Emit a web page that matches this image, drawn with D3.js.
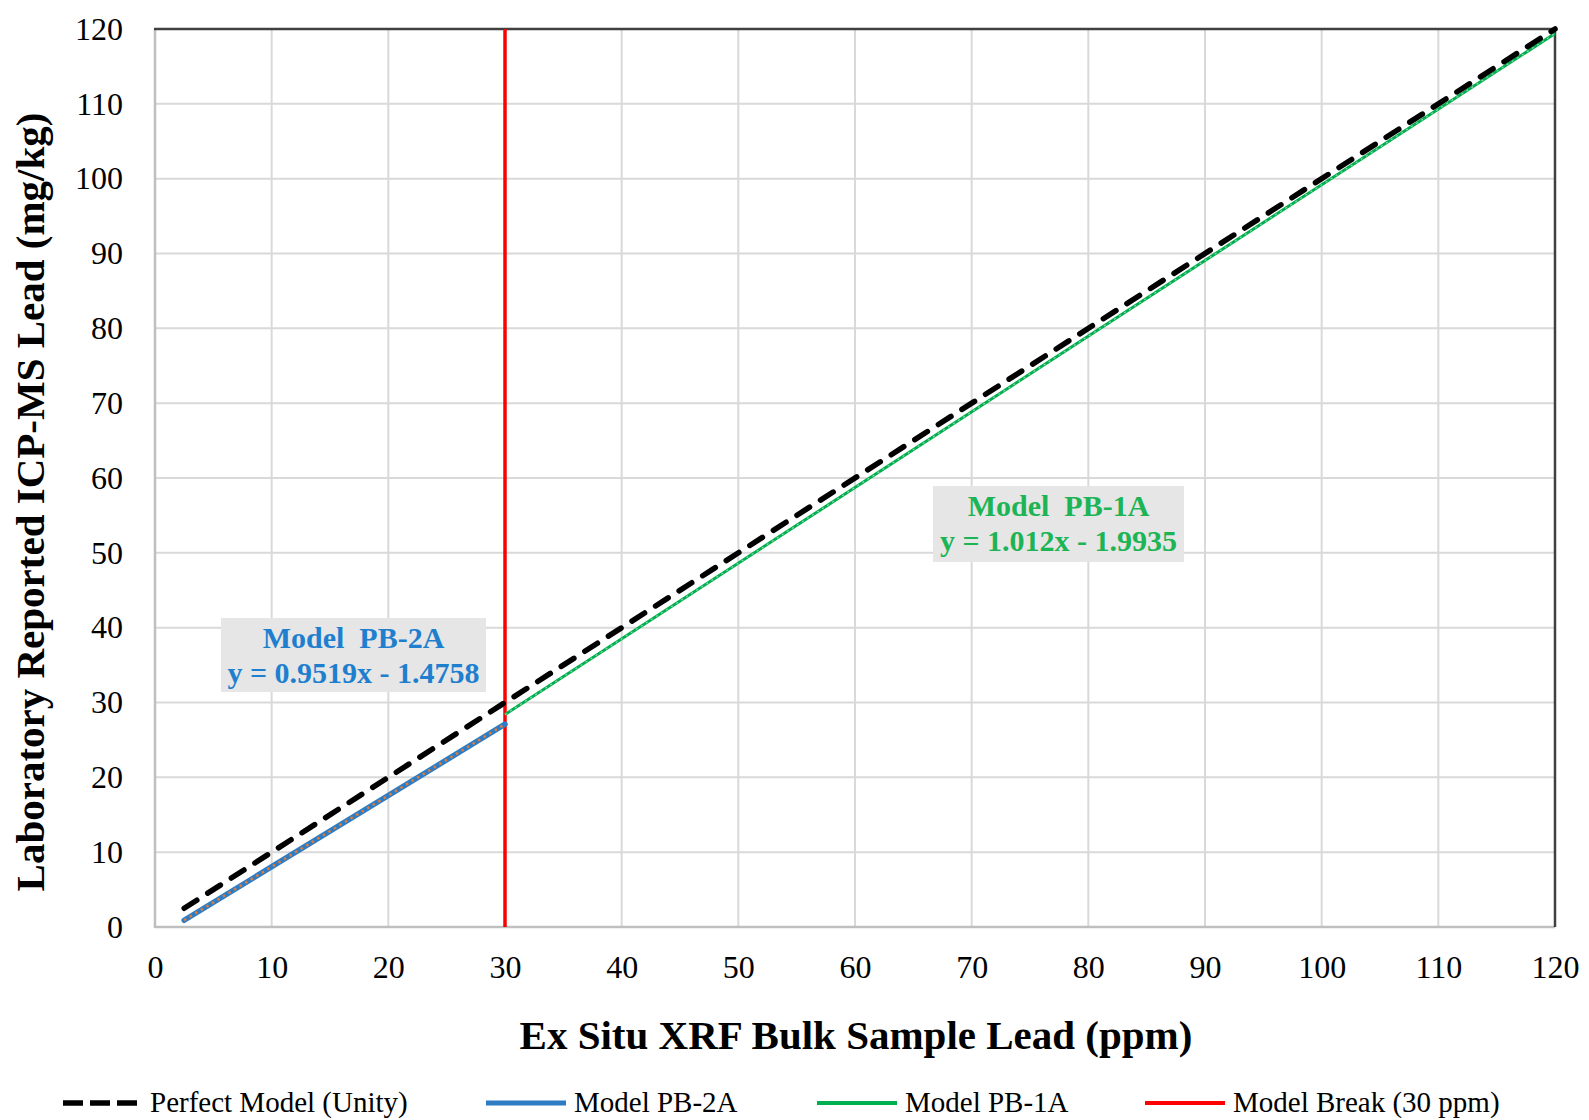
<!DOCTYPE html>
<html>
<head>
<meta charset="utf-8">
<script src="https://cdn.jsdelivr.net/npm/d3@7"></script>
<style>
  body { margin: 0; background: #fff; }
  text { font-family: "Liberation Serif", "Times New Roman", serif; }
</style>
</head>
<body>
<svg id="chart" width="1589" height="1120"></svg>
<script>
// axis ticks
var xTicks = [0, 10, 20, 30, 40, 50, 60, 70, 80, 90, 100, 110, 120];
var yTicks = [0, 10, 20, 30, 40, 50, 60, 70, 80, 90, 100, 110, 120];

// line end points
var unityX = [2.5, 120];
var unityY = [2.5, 120];
var pb2aX = [2.5, 30];
var pb2aY = [0.9, 27.1];
var pb1aX = [30, 120];
var pb1aY = [28.4, 119.4];
var breakX = [30, 30];
var breakY = [0, 120];

var legendNames = ["Perfect Model (Unity)", "Model PB-2A", "Model PB-1A", "Model Break (30 ppm)"];

var svg = d3.select("#chart");
var plotLeft = 155, plotRight = 1555, plotTop = 29, plotBottom = 927;

var x = d3.scaleLinear().domain([0, 120]).range([plotLeft, plotRight]);
var y = d3.scaleLinear().domain([0, 120]).range([plotBottom, plotTop]);

// grid
svg.append("g")
    .selectAll("line")
    .data(xTicks)
    .enter()
    .append("line")
    .attr("x1", function (d) { return x(d) })
    .attr("x2", function (d) { return x(d) })
    .attr("y1", plotTop)
    .attr("y2", plotBottom)
    .style("stroke", "#d9d9d9")
    .style("stroke-width", 2);
svg.append("g")
    .selectAll("line")
    .data(yTicks)
    .enter()
    .append("line")
    .attr("x1", plotLeft)
    .attr("x2", plotRight)
    .attr("y1", function (d) { return y(d) })
    .attr("y2", function (d) { return y(d) })
    .style("stroke", "#d9d9d9")
    .style("stroke-width", 2);

// frame: left/bottom light, top/right dark
svg.append("line").attr("x1", plotLeft).attr("x2", plotLeft).attr("y1", plotTop).attr("y2", plotBottom + 1)
    .style("stroke", "#bfbfbf").style("stroke-width", 2.5);
svg.append("line").attr("x1", plotLeft).attr("x2", plotRight).attr("y1", plotBottom).attr("y2", plotBottom)
    .style("stroke", "#bfbfbf").style("stroke-width", 2.5);
svg.append("line").attr("x1", plotLeft - 1).attr("x2", plotRight + 1).attr("y1", plotTop).attr("y2", plotTop)
    .style("stroke", "#404040").style("stroke-width", 2.5);
svg.append("line").attr("x1", plotRight).attr("x2", plotRight).attr("y1", plotTop).attr("y2", plotBottom)
    .style("stroke", "#404040").style("stroke-width", 2.5);

// axes (labels only)
var xAxis = svg.append("g")
    .attr("transform", "translate(0," + plotBottom + ")")
    .call(d3.axisBottom(x).tickValues(xTicks).tickSize(0).tickPadding(28));
var yAxis = svg.append("g")
    .attr("transform", "translate(" + plotLeft + ",0)")
    .call(d3.axisLeft(y).tickValues(yTicks).tickSize(0).tickPadding(32));
[xAxis, yAxis].forEach(function (a) {
    a.select(".domain").remove();
    a.selectAll("text")
        .style("font-family", "Liberation Serif, serif")
        .style("font-size", "32px")
        .style("fill", "#000");
});

function pts(xs, ys) {
    return xs.map(function (d, i) { return [d, ys[i]] });
}
var line = d3.line().x(function (d) { return x(d[0]) }).y(function (d) { return y(d[1]) });

// model break
svg.append("path").datum(pts(breakX, breakY)).attr("d", line)
    .style("stroke", "#ff0000").style("stroke-width", 3.5).style("fill", "none");

// PB-1A
svg.append("path").datum(pts(pb1aX, pb1aY)).attr("d", line)
    .style("stroke", "#00b050").style("stroke-width", 3).style("fill", "none");
svg.append("path").datum(pts(pb1aX, pb1aY)).attr("d", line)
    .style("stroke", "#8fd8a8").style("stroke-width", 1.2)
    .style("stroke-dasharray", "2 4").style("fill", "none");

// PB-2A (blue with orange dotted overlay)
svg.append("path").datum(pts(pb2aX, pb2aY)).attr("d", line)
    .style("stroke", "#2e7dc4").style("stroke-width", 5.5)
    .style("stroke-linecap", "round").style("fill", "none");
svg.append("path").datum(pts(pb2aX, pb2aY)).attr("d", line)
    .style("stroke", "#e07b39").style("stroke-width", 2.5)
    .style("stroke-dasharray", "2.5 4").style("fill", "none");

// unity
svg.append("path").datum(pts(unityX, unityY)).attr("d", line)
    .style("stroke", "#000").style("stroke-width", 5.5)
    .style("stroke-dasharray", "15 13").style("stroke-linecap", "round")
    .style("fill", "none");

// annotations
function note(x0, y0, w, h, color, lines) {
    var g = svg.append("g");
    g.append("rect").attr("x", x0).attr("y", y0).attr("width", w).attr("height", h)
        .style("fill", "#e6e6e6");
    g.selectAll("text").data(lines).enter().append("text")
        .attr("x", x0 + w / 2)
        .attr("y", function (d, i) { return y0 + 30 + i * 35 })
        .attr("text-anchor", "middle")
        .style("font-size", "30px")
        .style("font-weight", "bold")
        .style("fill", color)
        .style("white-space", "pre")
        .text(function (d) { return d });
}
note(221, 618, 265, 74, "#1f7fcf", ["Model  PB-2A", "y = 0.9519x - 1.4758"]);
note(933, 486, 251, 76, "#1db455", ["Model  PB-1A", "y = 1.012x - 1.9935"]);

// axis titles
svg.append("text")
    .attr("x", 856).attr("y", 1049)
    .attr("text-anchor", "middle")
    .style("font-size", "41px").style("font-weight", "bold")
    .text("Ex Situ XRF Bulk Sample Lead (ppm)");
svg.append("text")
    .attr("transform", "translate(44,502) rotate(-90)")
    .attr("text-anchor", "middle")
    .style("font-size", "41px").style("font-weight", "bold")
    .text("Laboratory Reported ICP-MS Lead (mg/kg)");

// legend
var legX = [63, 486, 817, 1145];
var legStyles = [
    { color: "#000", width: 5.5, dash: "20 7" },
    { color: "#2e7dc4", width: 5, dash: null },
    { color: "#00b050", width: 4, dash: null },
    { color: "#ff0000", width: 4, dash: null }
];
var leg = svg.append("g").selectAll("g").data(legendNames).enter().append("g")
    .attr("transform", function (d, i) { return "translate(" + legX[i] + ",1103)" });
leg.append("line").attr("x1", 0).attr("x2", function (d, i) { return i == 0 ? 74 : 80 })
    .attr("y1", 0).attr("y2", 0)
    .style("stroke", function (d, i) { return legStyles[i].color })
    .style("stroke-width", function (d, i) { return legStyles[i].width })
    .style("stroke-dasharray", function (d, i) { return legStyles[i].dash });
leg.append("text")
    .attr("x", function (d, i) { return i == 0 ? 87 : 88 })
    .attr("y", 9)
    .style("font-size", "29px")
    .text(function (d) { return d });
</script>
</body>
</html>
